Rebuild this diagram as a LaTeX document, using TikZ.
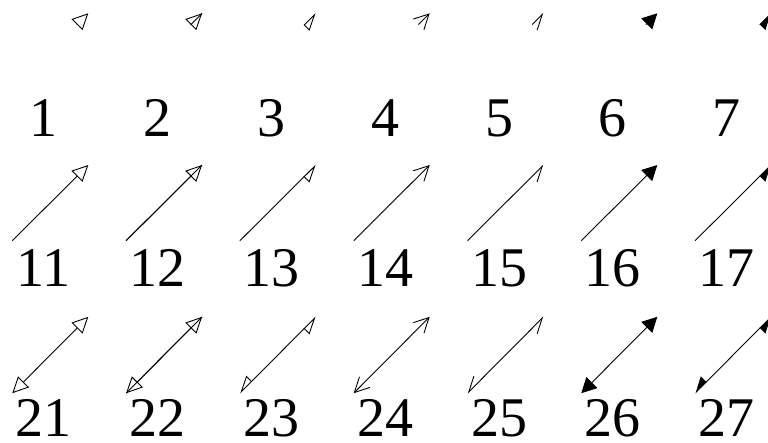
\documentclass[tikz,border=0pt]{standalone}
\usepackage{fontspec}
\setmainfont{Liberation Serif}
\usetikzlibrary{arrows.meta}
\begin{document}
\begin{tikzpicture}[x=1pt,y=-1pt,line width=0.9pt,
  lab/.style={font=\fontsize{56}{56}\selectfont, anchor=base, inner sep=0pt, text depth=0pt},
  tipE/.tip={Triangle[open,length=16pt,width=15.4pt]},
  tipH/.tip={Triangle[open,right,length=16pt,width=15.4pt]},
  tipS/.tip={Straight Barb[length=14.7pt,width=15pt]},
  tipSH/.tip={Straight Barb[right,length=14.7pt,width=15pt]},
  tipF/.tip={Triangle[length=15pt,width=15.4pt]},
  tipFH/.tip={Triangle[right,length=15pt,width=15.4pt]}]
\useasboundingbox (0,0) rectangle (768,443);
\clip (0,0) rectangle (768,443);
% coordinates
\foreach \k in {1,...,7}{
  \pgfmathsetmacro\hx{88.3+113.8*(\k-1)}
  \pgfmathsetmacro\tx{12.3+113.8*(\k-1)}
  \pgfmathsetmacro\lx{43.8+113.8*(\k-1)}
  \coordinate (ah\k) at (\hx,13.3);
  \coordinate (at\k) at (\hx-11.3,24.6);
  \coordinate (bh\k) at (\hx,165);
  \coordinate (bt\k) at (\tx,240.7);
  \coordinate (ch\k) at (\hx,316.8);
  \coordinate (ct\k) at (\tx,393.2);
  \node[lab] (la\k) at (\lx,136.7) {\k};
  \node[lab] (lb\k) at (\lx,286.7) {1\k};
  \node[lab] (lc\k) at (\lx,436.7) {2\k};
}
% row 1: heads only
\draw[-tipE] (at1) -- (ah1);
\draw (at2) -- (ah2); \draw[-tipE] (at2) -- (ah2);
\draw[-tipH] (at3) -- (ah3);
\draw[-tipS] (at4) -- (ah4);
\draw[-tipSH] (at5) -- (ah5);
\draw[-tipF] (at6) -- (ah6);
\draw[-tipFH] (at7) -- (ah7);
% row 2: single arrows
\draw[-tipE] (bt1) -- (bh1);
\draw (bt2) -- (bh2); \draw[-tipE] (bt2) -- (bh2);
\draw[-tipH] (bt3) -- (bh3);
\draw[-tipS] (bt4) -- (bh4);
\draw[-tipSH] (bt5) -- (bh5);
\draw[-tipF] (bt6) -- (bh6);
\draw[-tipFH] (bt7) -- (bh7);
% row 3: double arrows
\draw[tipE-tipE] (ct1) -- (ch1);
\draw (ct2) -- (ch2); \draw[tipE-tipE] (ct2) -- (ch2);
\draw[tipH-tipH] (ct3) -- (ch3);
\draw[tipS-tipS] (ct4) -- (ch4);
\draw[tipSH-tipSH] (ct5) -- (ch5);
\draw[tipF-tipF] (ct6) -- (ch6);
\draw[tipFH-tipFH] (ct7) -- (ch7);
\end{tikzpicture}
\end{document}
